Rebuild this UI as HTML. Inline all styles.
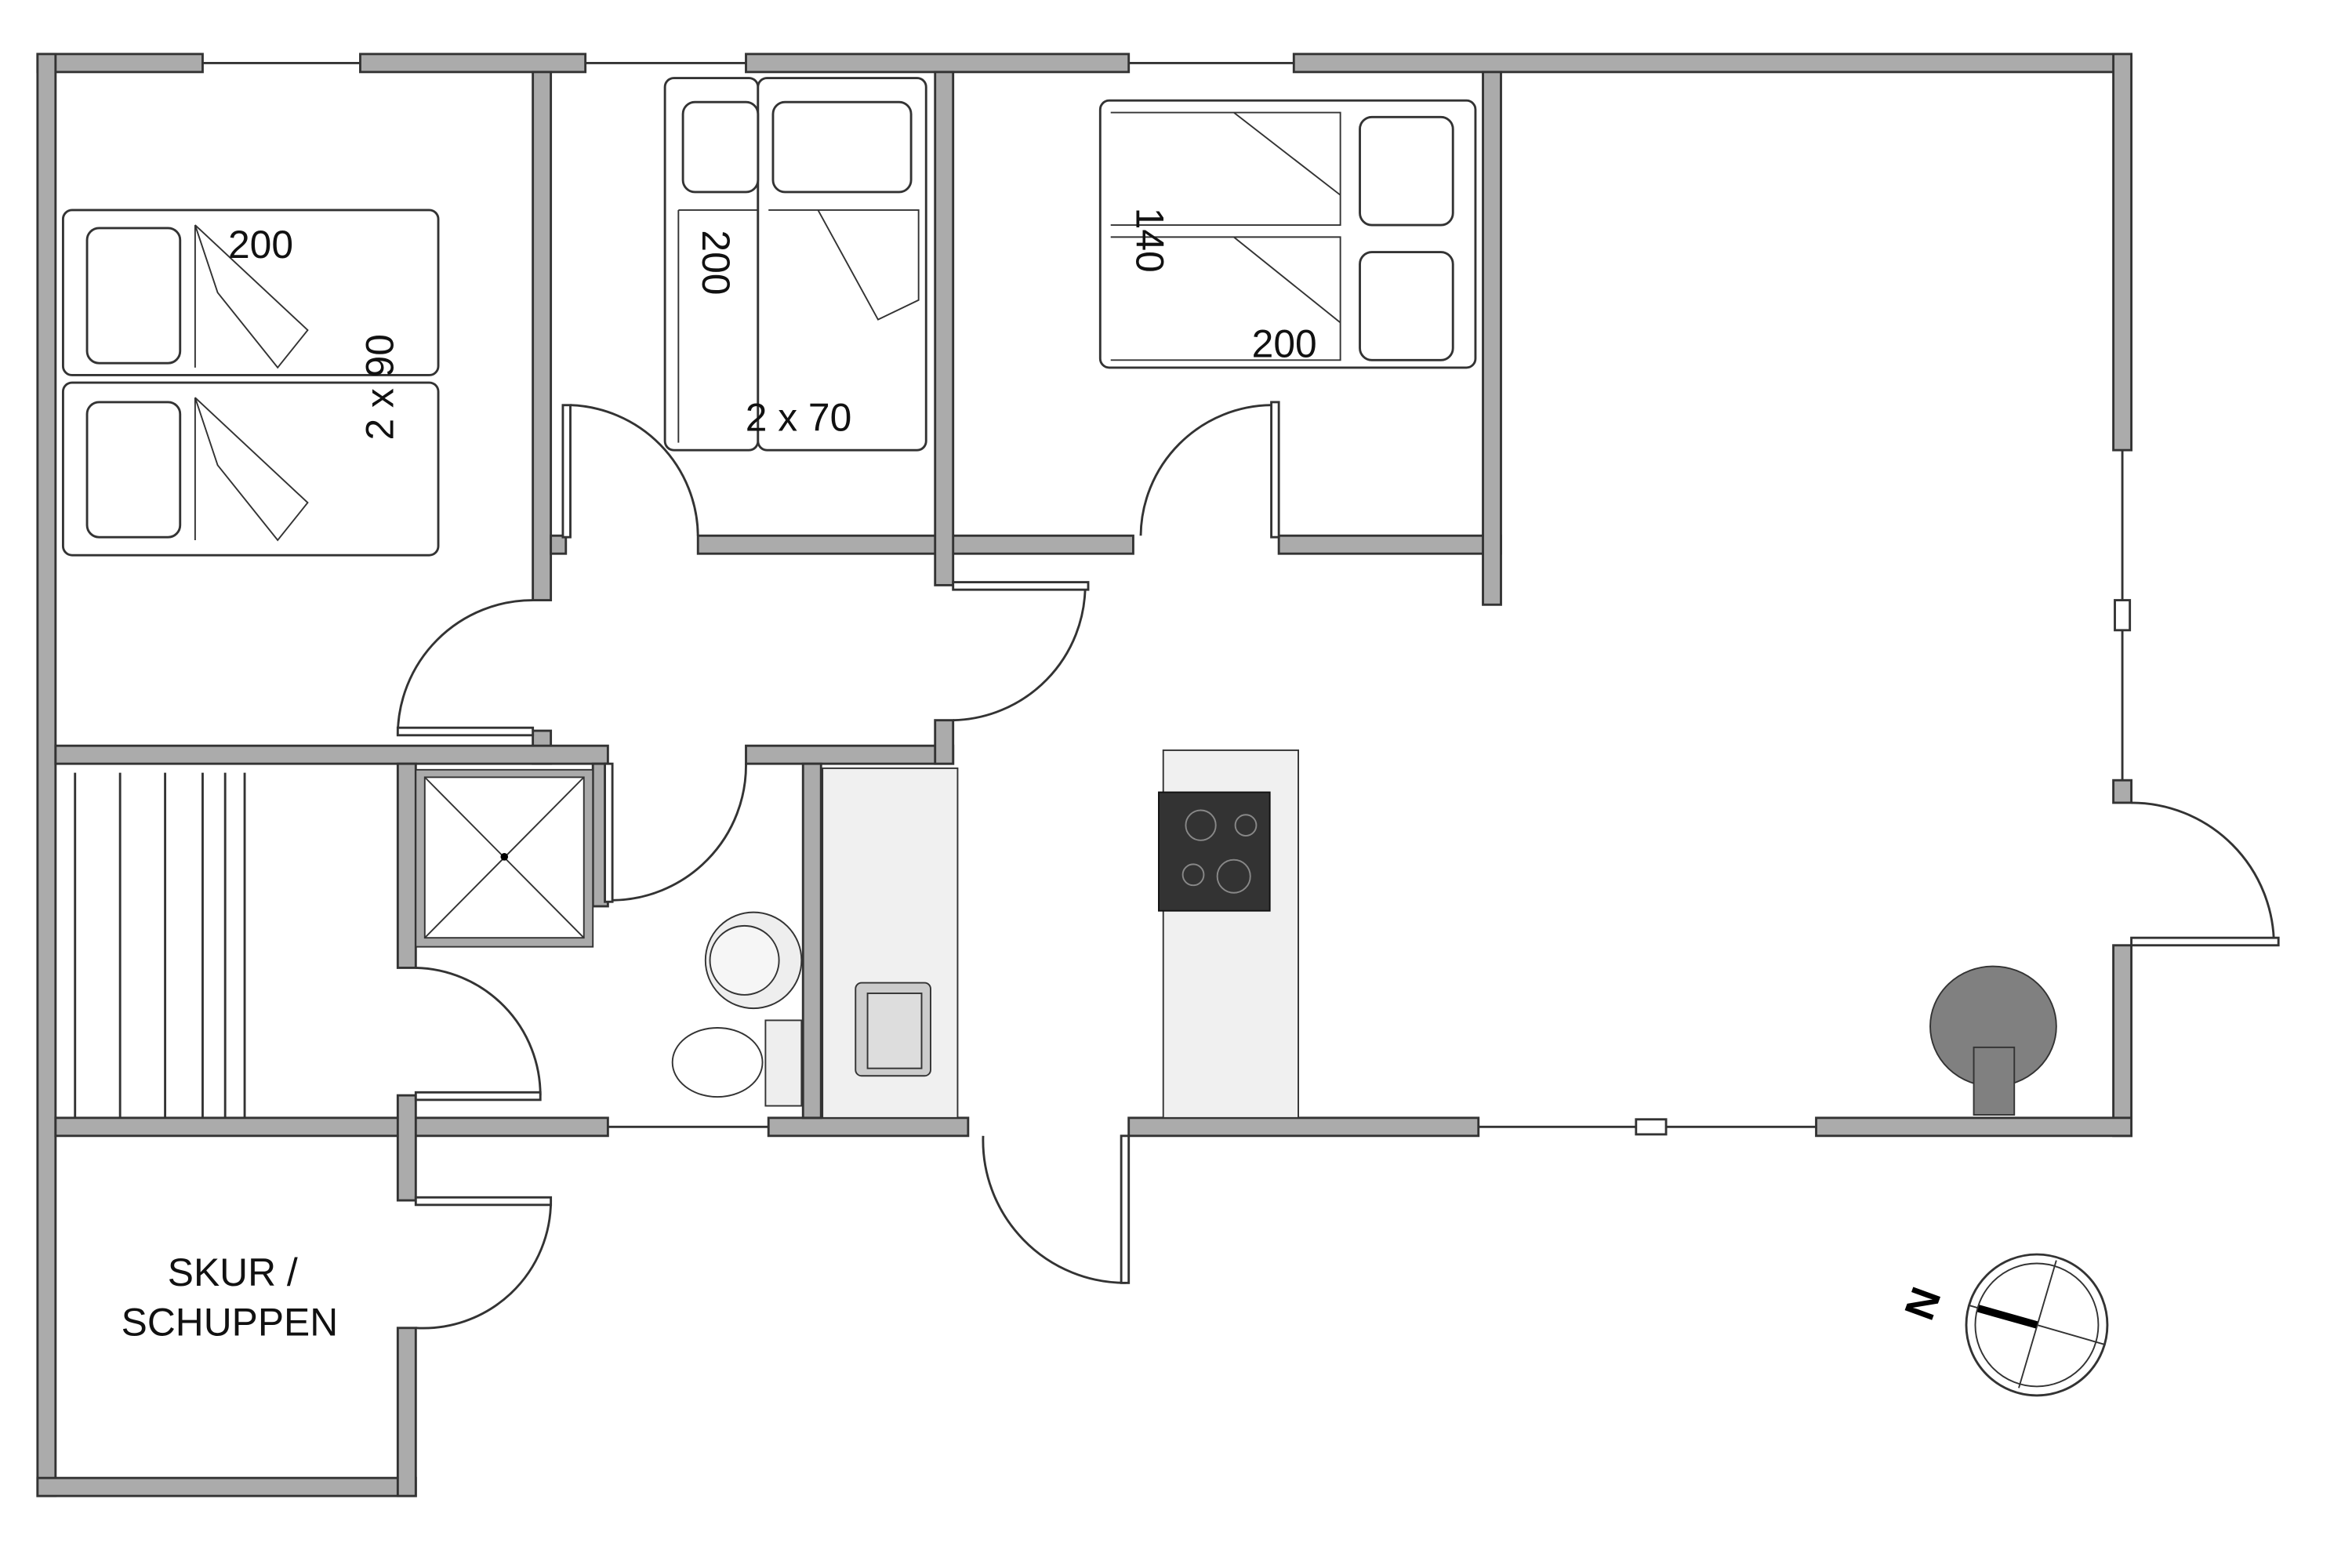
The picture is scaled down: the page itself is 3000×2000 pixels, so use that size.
<!DOCTYPE html>
<html><head><meta charset="utf-8"><style>html,body{margin:0;padding:0;background:#fff}svg{display:block}</style></head>
<body>
<svg width="3000" height="2000" viewBox="0 0 1567 1045" preserveAspectRatio="none" xmlns="http://www.w3.org/2000/svg" font-family="Liberation Sans, sans-serif">
<g fill="#ababab" stroke="#333" stroke-width="1.5">
<rect x="25" y="36" width="110" height="12"/>
<rect x="240" y="36" width="150" height="12"/>
<rect x="497" y="36" width="255" height="12"/>
<rect x="862" y="36" width="558" height="12"/>
<rect x="25" y="36" width="12" height="961"/>
<rect x="1408" y="36" width="12" height="264"/>
<rect x="1408" y="520" width="12" height="15"/>
<rect x="1408" y="630" width="12" height="127"/>
<rect x="37" y="745" width="368" height="12"/>
<rect x="512" y="745" width="133" height="12"/>
<rect x="752" y="745" width="233" height="12"/>
<rect x="1210" y="745" width="210" height="12"/>
<rect x="25" y="985" width="252" height="12"/>
<rect x="265" y="885" width="12" height="112"/>
<rect x="265" y="730" width="12" height="70"/>
<rect x="355" y="48" width="12" height="352"/>
<rect x="355" y="487" width="12" height="22"/>
<rect x="37" y="497" width="368" height="12"/>
<rect x="497" y="497" width="138" height="12"/>
<rect x="367" y="357" width="10" height="12"/>
<rect x="465" y="357" width="290" height="12"/>
<rect x="852" y="357" width="148" height="12"/>
<rect x="623" y="48" width="12" height="342"/>
<rect x="623" y="480" width="12" height="29"/>
<rect x="988" y="48" width="12" height="355"/>
<rect x="265" y="509" width="12" height="136"/>
<rect x="395" y="509" width="10" height="95"/>
<rect x="535" y="509" width="12" height="236"/>
</g>
<g stroke="#333" stroke-width="1.5" fill="none">
<line x1="135" y1="42" x2="240" y2="42"/><line x1="390" y1="42" x2="497" y2="42"/><line x1="752" y1="42" x2="862" y2="42"/>
<line x1="1414" y1="300" x2="1414" y2="520"/>
<line x1="405" y1="751" x2="512" y2="751"/><line x1="985" y1="751" x2="1210" y2="751"/>
</g>
<g fill="#fff" stroke="#333" stroke-width="1.5">
<rect x="1409" y="400" width="10" height="20"/><rect x="1090" y="746" width="20" height="10"/>
</g>
<g fill="none" stroke="#333" stroke-width="1.5">
<path d="M355 400 A90 90 0 0 0 265 490"/><rect x="265" y="485" width="90" height="5" fill="#fff"/>
<path d="M380 270 A88 88 0 0 1 465 357"/><rect x="375" y="270" width="5" height="88" fill="#fff"/>
<path d="M847 270 A88 88 0 0 0 760 357"/><rect x="847" y="268" width="5" height="90" fill="#fff"/>
<path d="M723 390 A90 90 0 0 1 635 480"/><rect x="635" y="388" width="90" height="5" fill="#fff"/>
<path d="M497 509 A90 90 0 0 1 408 600"/><rect x="403" y="509" width="5" height="92" fill="#fff"/>
<path d="M277 645 A85 85 0 0 1 360 730"/><rect x="277" y="728" width="83" height="5" fill="#fff"/>
<path d="M367 800 A85 85 0 0 1 277 885"/><rect x="277" y="798" width="90" height="5" fill="#fff"/>
<path d="M655 757 A95 95 0 0 0 750 855"/><rect x="747" y="757" width="5" height="98" fill="#fff"/>
<path d="M1420 535 A95 95 0 0 1 1515 630"/><rect x="1420" y="625" width="98" height="5" fill="#fff"/>
</g>
<g stroke="#333" stroke-width="1.5">
<line x1="50" y1="515" x2="50" y2="745"/><line x1="80" y1="515" x2="80" y2="745"/><line x1="110" y1="515" x2="110" y2="745"/><line x1="135" y1="515" x2="135" y2="745"/><line x1="150" y1="515" x2="150" y2="745"/><line x1="163" y1="515" x2="163" y2="745"/>
</g>
<rect x="277" y="513" width="118" height="118" fill="#aaa" stroke="#333"/>
<rect x="283" y="518" width="106" height="107" fill="#fff" stroke="#333"/>
<path d="M283 518 L389 625 M389 518 L283 625" stroke="#333"/>
<circle cx="336" cy="571" r="2.5" fill="#000"/>
<circle cx="502" cy="640" r="32" fill="#eee" stroke="#333"/><circle cx="496" cy="640" r="23" fill="#f6f6f6" stroke="#333"/>
<rect x="510" y="680" width="24" height="57" fill="#eee" stroke="#333"/>
<ellipse cx="478" cy="708" rx="30" ry="23" fill="#fff" stroke="#333"/>
<rect x="548" y="512" width="90" height="233" fill="#f0f0f0" stroke="#333"/>
<rect x="570" y="655" width="50" height="62" rx="4" fill="#ccc" stroke="#333"/><rect x="578" y="662" width="36" height="50" fill="#ddd" stroke="#333"/>
<rect x="775" y="500" width="90" height="245" fill="#f0f0f0" stroke="#333"/>
<rect x="772" y="528" width="74" height="79" fill="#333" stroke="#111"/>
<g fill="none" stroke="#888"><circle cx="800" cy="550" r="10"/><circle cx="830" cy="550" r="7"/><circle cx="795" cy="583" r="7"/><circle cx="822" cy="584" r="11"/></g>
<ellipse cx="1328" cy="684" rx="42" ry="40" fill="#808080" stroke="#333"/>
<rect x="1315" y="698" width="27" height="45" fill="#808080" stroke="#333"/>
<circle cx="1357" cy="883" r="47" fill="#fff" stroke="#333" stroke-width="1.5"/><circle cx="1357" cy="883" r="41" fill="none" stroke="#333"/>
<line x1="1312" y1="870" x2="1402" y2="896" stroke="#333"/><line x1="1345" y1="925" x2="1370" y2="840" stroke="#333"/>
<line x1="1318" y1="872" x2="1357" y2="883" stroke="#000" stroke-width="5"/>
<text x="1290" y="872" font-size="28" font-weight="bold" transform="rotate(-70 1290 872)" text-anchor="middle">N</text>
<g fill="#fff" stroke="#333" stroke-width="1.5">
<rect x="42" y="140" width="250" height="110" rx="6"/><rect x="42" y="255" width="250" height="115" rx="6"/>
<rect x="58" y="152" width="62" height="90" rx="8"/><rect x="58" y="268" width="62" height="90" rx="8"/>
<rect x="443" y="52" width="62" height="248" rx="6"/><rect x="505" y="52" width="112" height="248" rx="6"/>
<rect x="455" y="68" width="50" height="60" rx="8"/><rect x="515" y="68" width="92" height="60" rx="8"/>
<rect x="733" y="67" width="250" height="178" rx="6"/>
<rect x="906" y="78" width="62" height="72" rx="8"/><rect x="906" y="168" width="62" height="72" rx="8"/>
</g>
<g fill="none" stroke="#333">
<path d="M130 150 L130 245 M130 150 L205 220 L185 245 L145 195 Z"/>
<path d="M130 265 L130 360 M130 265 L205 335 L185 360 L145 310 Z"/>
<path d="M512 140 L612 140 L612 200 L585 213 L545 140"/>
<path d="M452 140 L505 140 M452 140 L452 295"/>
<path d="M740 75 L893 75 L893 150 L740 150 M822 75 L893 130 L893 150 M740 158 L893 158 L893 240 L740 240 M822 158 L893 215"/>
</g>
<g font-size="26" fill="#111">
<text x="152" y="172">200</text>
<text x="262" y="258" transform="rotate(-90 262 258)" text-anchor="middle">2 x 90</text>
<text x="468" y="175" transform="rotate(90 468 175)" text-anchor="middle">200</text>
<text x="532" y="287" text-anchor="middle">2 x 70</text>
<text x="757" y="160" transform="rotate(90 757 160)" text-anchor="middle">140</text>
<text x="834" y="238">200</text>
<text x="155" y="857" text-anchor="middle">SKUR /</text>
<text x="153" y="890" text-anchor="middle">SCHUPPEN</text>
</g>
</svg>
</body></html>
